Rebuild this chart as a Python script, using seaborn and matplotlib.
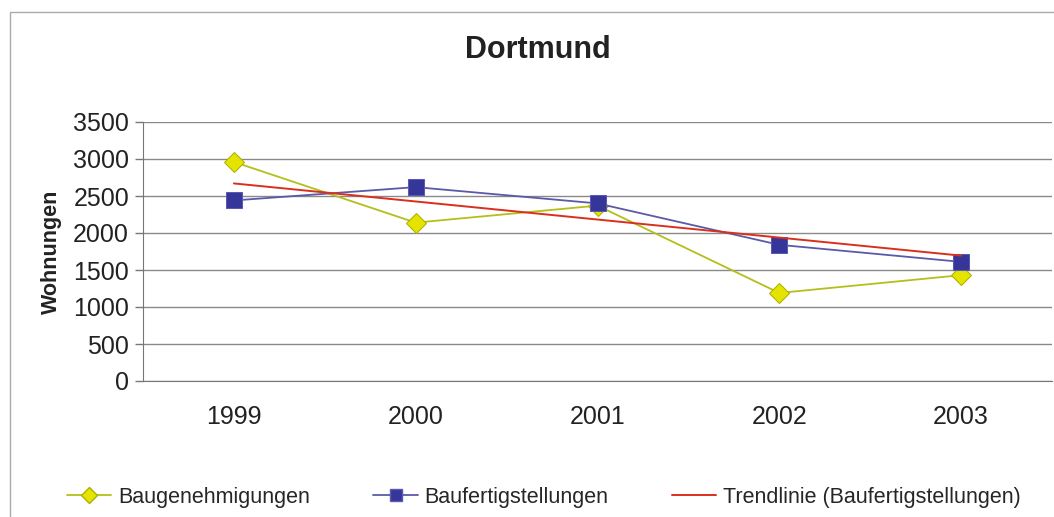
import matplotlib
matplotlib.use("Agg")
import matplotlib.pyplot as plt
import matplotlib.patches as mpatches
from matplotlib.lines import Line2D
import numpy as np
import pandas as pd
import seaborn as sns

years = ["1999", "2000", "2001", "2002", "2003"]
baugenehmigungen = [2960, 2140, 2370, 1190, 1430]
baufertigstellungen = [2440, 2620, 2400, 1840, 1610]
yticks = [0, 500, 1000, 1500, 2000, 2500, 3000, 3500]

sns.set_style("white")
plt.rcParams['font.family'] = ['Liberation Sans', 'DejaVu Sans']

fig = plt.figure(figsize=(10.54, 5.17), dpi=100)
ax = fig.add_axes([143/1054, 1-381/517, 909/1054, 259/517])

x = np.arange(len(years))
df = pd.DataFrame({"x": x, "Baugenehmigungen": baugenehmigungen,
                   "Baufertigstellungen": baufertigstellungen})

# trend line (linear fit of Baufertigstellungen)
coef = np.polyfit(x, baufertigstellungen, 1)
df["Trend"] = np.polyval(coef, x)

c_yel_line = "#b4bf1a"
c_yel_fill = "#e4e400"
c_blue_line = "#5a5aa8"
c_blue_fill = "#35359a"
c_red = "#d8301c"

sns.lineplot(data=df, x="x", y="Baugenehmigungen", ax=ax, color=c_yel_line, lw=1.3,
             marker="D", markersize=10, markerfacecolor=c_yel_fill,
             markeredgecolor="#b0b000", zorder=3)
sns.lineplot(data=df, x="x", y="Baufertigstellungen", ax=ax, color=c_blue_line, lw=1.3,
             marker="s", markersize=12, markerfacecolor=c_blue_fill,
             markeredgecolor="#5a5ab0", zorder=4)
sns.lineplot(data=df, x="x", y="Trend", ax=ax, color=c_red, lw=1.4, zorder=5)

ax.set_xlim(-0.5, len(years) - 0.5)
ax.set_ylim(0, 3500)
ax.set_yticks(yticks)
ax.set_yticklabels([str(v) for v in yticks], fontsize=18, color="#222222")
ax.set_xticks(x)
ax.set_xticklabels(years, fontsize=18, color="#222222")
ax.set_xticks(np.arange(-0.5, len(years), 1.0), minor=True)
ax.tick_params(axis="x", which="major", length=0, pad=17)
ax.tick_params(axis="x", which="minor", length=8, width=1, color="#777777", direction="out")
ax.tick_params(axis="y", length=6, width=1, color="#777777", direction="out", pad=4, left=True)
ax.grid(axis="y", color="#8a8a8a", lw=1)
ax.set_axisbelow(True)
for s in ["top", "right"]:
    ax.spines[s].set_visible(False)
ax.spines["left"].set_color("#777777")
ax.spines["bottom"].set_color("#777777")
ax.set_xlabel("")
ax.set_ylabel("Wohnungen", fontsize=15.5, fontweight="bold", color="#222222", labelpad=8)

fig.text(538/1054, 1-50/517, "Dortmund", ha="center", va="center",
         fontsize=22, fontweight="bold", color="#222222")

# outer chart frame
fig.patches.append(mpatches.Rectangle((10/1054, -0.1), 1.2, 1-12/517 + 0.1,
                                      transform=fig.transFigure, fill=False,
                                      edgecolor="#aaaaaa", lw=1))

handles = [
    Line2D([], [], color=c_yel_line, lw=1.3, marker="D", markersize=8,
           markerfacecolor=c_yel_fill, markeredgecolor="#b0b000"),
    Line2D([], [], color=c_blue_line, lw=1.3, marker="s", markersize=9,
           markerfacecolor=c_blue_fill, markeredgecolor="#5a5ab0"),
    Line2D([], [], color=c_red, lw=1.4),
]
labels = ["Baugenehmigungen", "Baufertigstellungen", "Trendlinie (Baufertigstellungen)"]
fig.legend(handles, labels, loc="center", bbox_to_anchor=(544/1054, 1-497/517),
           ncol=3, frameon=False, fontsize=15.5, handlelength=2.05, handletextpad=0.33,
           columnspacing=2.95)

fig.savefig("out.png", dpi=100, facecolor="white")
